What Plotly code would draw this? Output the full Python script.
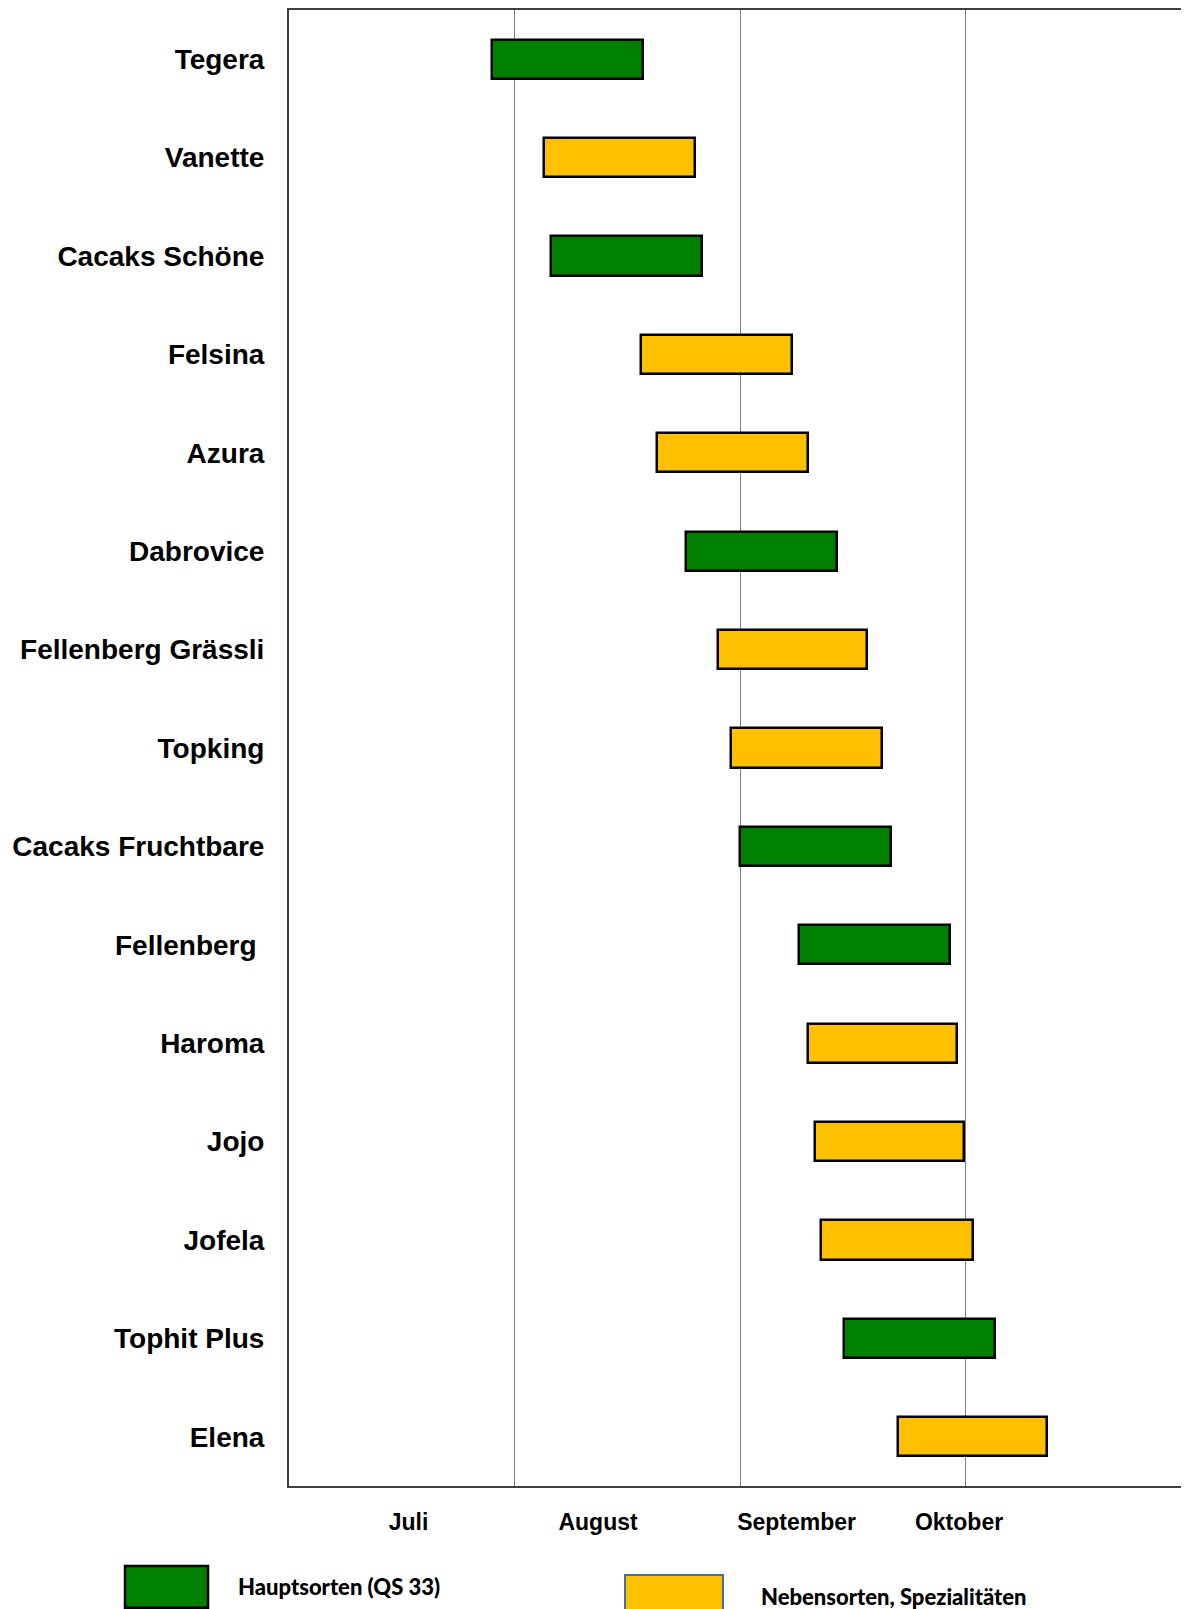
import plotly.graph_objects as go

# ---- data (x in months after 1 July) ----
varieties = ["Tegera", "Vanette", "Cacaks Schöne", "Felsina", "Azura", "Dabrovice",
             "Fellenberg Grässli", "Topking", "Cacaks Fruchtbare", "Fellenberg",
             "Haroma", "Jojo", "Jofela", "Tophit Plus", "Elena"]
tick_labels = ["Tegera", "Vanette", "Cacaks Schöne", "Felsina", "Azura", "Dabrovice",
               "Fellenberg Grässli", "Topking", "Cacaks Fruchtbare", "Fellenberg\u00a0",
               "Haroma", "Jojo", "Jofela", "Tophit Plus", "Elena"]
start = [0.90, 1.13, 1.16, 1.56, 1.63, 1.76, 1.90, 1.96, 2.00, 2.26, 2.30, 2.33, 2.36, 2.46, 2.70]
end = [1.57, 1.80, 1.83, 2.23, 2.30, 2.43, 2.56, 2.63, 2.67, 2.93, 2.96, 2.99, 3.03, 3.13, 3.36]
group = ["H", "N", "H", "N", "N", "H", "N", "N", "H", "H", "N", "N", "N", "H", "N"]

month_labels = ["Juli", "August", "September", "Oktober"]
month_label_pos = [0.53, 1.37, 2.25, 2.97]

legend_names = {"H": "Hauptsorten (QS 33)", "N": "Nebensorten, Spezialitäten"}
colors = {"H": "#008000", "N": "#FFC000"}

W, H = 1189, 1609
OFF = 8  # page body margin
L, T, B_PX = 281, 0, 1478
R = 0
MONTH_PX = 225.6

fig = go.Figure()
for g in ["H", "N"]:
    idx = [i for i, gg in enumerate(group) if gg == g]
    fig.add_trace(go.Bar(
        orientation="h",
        y=[varieties[i] for i in idx],
        base=[start[i] for i in idx],
        x=[end[i] - start[i] for i in idx],
        width=0.4,
        marker=dict(color=colors[g], line=dict(color="#000000", width=2.5)),
        name=legend_names[g],
        showlegend=False,
    ))

plot_w = W - L - R
plot_h = B_PX - T


def px_x(p):
    # p: pixel position on the screenshot
    return (p - OFF - L) / plot_w


def px_y(p):
    return (B_PX - (p - OFF)) / plot_h


# legend swatches and labels (positioned in pixels below the plot)
fig.add_shape(type="rect", xref="paper", yref="paper",
              x0=px_x(125), x1=px_x(208), y0=px_y(1566), y1=px_y(1608),
              fillcolor=colors["H"], line=dict(color="#000000", width=2.5))
fig.add_shape(type="rect", xref="paper", yref="paper",
              x0=px_x(625), x1=px_x(723), y0=px_y(1575), y1=px_y(1625),
              fillcolor=colors["N"], line=dict(color="#41719C", width=2))
fig.add_annotation(xref="paper", yref="paper", x=px_x(236), y=px_y(1587),
                   text=legend_names["H"], showarrow=False, xanchor="left", yanchor="middle",
                   font=dict(family="Lato", size=22, color="#000000", weight=900))
fig.add_annotation(xref="paper", yref="paper", x=px_x(759), y=px_y(1597),
                   text=legend_names["N"], showarrow=False, xanchor="left", yanchor="middle",
                   font=dict(family="Lato", size=22, color="#000000", weight=900))

fig.update_layout(
    width=W, height=H,
    margin=dict(l=L, r=R, t=T, b=H - B_PX, pad=0),
    paper_bgcolor="white", plot_bgcolor="white",
    barmode="overlay",
    bargap=0,
)
fig.update_xaxes(
    range=[0, plot_w / MONTH_PX],
    tickvals=month_label_pos, ticktext=month_labels,
    tickfont=dict(family="Liberation Sans", size=23, color="#000000", weight="bold"),
    ticks="", ticklabelstandoff=14,
    showgrid=False, zeroline=False,
    showline=True, linecolor="#404040", linewidth=2, mirror=True,
    minor=dict(tick0=0, dtick=1, showgrid=True, gridcolor="#808080", gridwidth=1.3, ticks=""),
)
fig.update_yaxes(
    type="category",
    categoryorder="array", categoryarray=varieties,
    tickvals=varieties, ticktext=tick_labels,
    range=[len(varieties) - 0.5, -0.5],
    tickfont=dict(family="Liberation Sans", size=28, color="#000000", weight="bold"),
    ticks="", ticklabelstandoff=17,
    showgrid=False, zeroline=False,
    showline=True, linecolor="#404040", linewidth=2, mirror=False,
)

fig.write_html("out.html")
